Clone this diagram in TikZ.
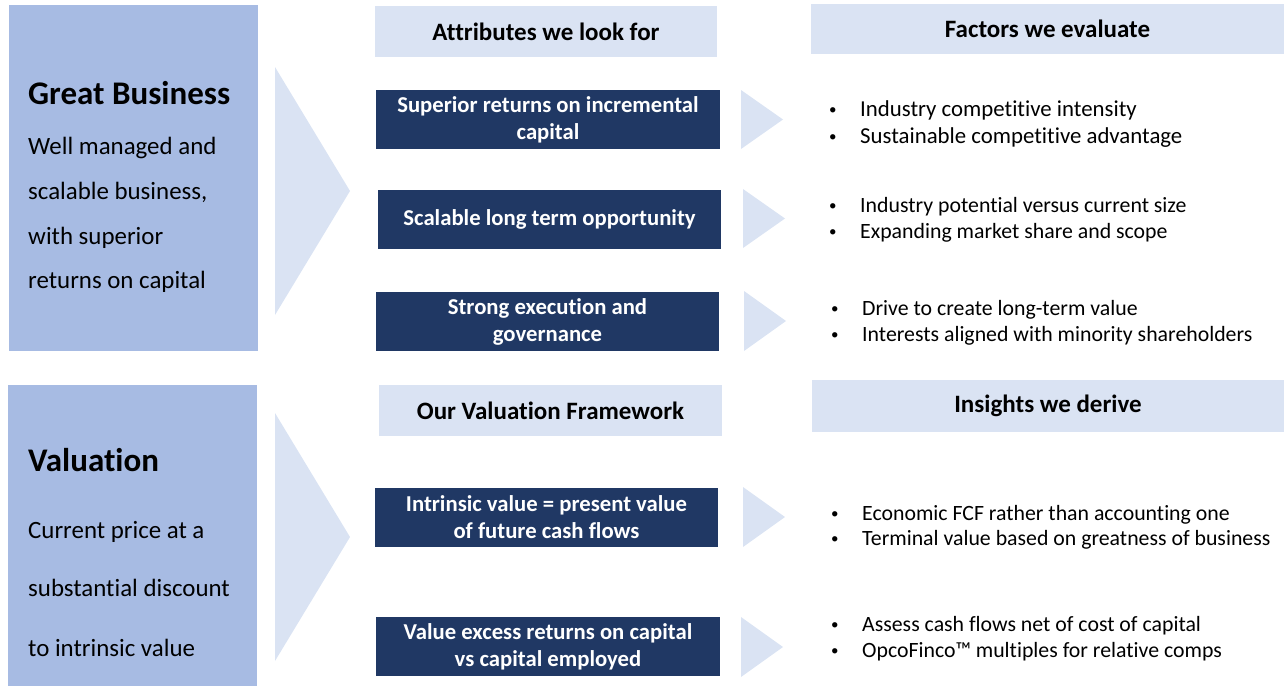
\documentclass[tikz,border=0pt]{standalone}
\usepackage{fontspec}
\setmainfont{Carlito}[Ligatures=NoCommon]
\definecolor{leftblue}{HTML}{A7BBE3}
\definecolor{paleblue}{HTML}{DAE3F3}
\definecolor{navy}{HTML}{203864}
\newcommand{\bl}{\makebox[31pt][l]{\raisebox{0.08em}{\fontsize{15}{15}\selectfont\textbullet}}}
\begin{document}
\begin{tikzpicture}[x=1pt,y=-1pt,
  headbox/.style={fill=paleblue, inner sep=0pt, font=\bfseries\fontsize{25}{28}\selectfont},
  darkbox/.style={fill=navy, text=white, inner sep=0pt, align=center, font=\bfseries\fontsize{22.7}{27}\selectfont},
  chev/.style={fill=paleblue},
  bul/.style={anchor=west, inner sep=0pt, text height=0.7em, text depth=0.2em, font=\fontsize{21.8}{26}\selectfont},
  bulA/.style={bul, font=\fontsize{22.8}{27}\selectfont},
  bigtitle/.style={anchor=west, inner sep=0pt, text height=0.7em, text depth=0.2em, font=\bfseries\fontsize{33}{36}\selectfont},
  sidetext/.style={anchor=west, inner sep=0pt, text height=0.7em, text depth=0.2em, font=\fontsize{24.9}{28}\selectfont}
]
\useasboundingbox (0,0) rectangle (1284,686);
% left boxes
\fill[leftblue] (9,5) rectangle (258,351);
\fill[leftblue] (8,385) rectangle (257,686);
% big chevrons
\fill[chev] (275,67) -- (350,191) -- (275,315) -- cycle;
\fill[chev] (275,413) -- (350,537) -- (275,661) -- cycle;
% left texts
\node[bigtitle] (gb) at (28,102) {Great Business};
\node[sidetext] (gb1) at (28,152) {Well managed and};
\node[sidetext] (gb2) at (28,197) {scalable business,};
\node[sidetext] (gb3) at (28,242) {with superior};
\node[sidetext] (gb4) at (28,286) {returns on capital};
\node[bigtitle] (va) at (28,469) {Valuation};
\node[sidetext] (va1) at (28,536) {Current price at a};
\node[sidetext] (va2) at (28,594) {substantial discount};
\node[sidetext] (va3) at (28,654) {to intrinsic value};
% headers
\node[headbox, minimum width=342pt, minimum height=51pt] (h1) at (546,31.5) {Attributes we look for};
\node[headbox, minimum width=473pt, minimum height=50pt] (h2) at (1047.5,29) {Factors we evaluate};
\node[headbox, minimum width=343pt, minimum height=51pt] (h3) at (550.5,410.5) {Our Valuation Framework};
\node[headbox, minimum width=472pt, minimum height=52pt] (h4) at (1048,406) {Insights we derive};
% dark boxes
\node[darkbox, minimum width=344pt, minimum height=59pt] (b1) at (548,119.5) {Superior returns on incremental\\capital};
\node[darkbox, minimum width=343pt, minimum height=59pt] (b2) at (549.5,219.5) {Scalable long term opportunity};
\node[darkbox, minimum width=343pt, minimum height=59pt] (b3) at (547.5,321.5) {Strong execution and\\governance};
\node[darkbox, minimum width=343pt, minimum height=59pt] (b4) at (546.5,517.5) {Intrinsic value = present value\\of future cash flows};
\node[darkbox, minimum width=344pt, minimum height=59pt] (b5) at (548,646.5) {Value excess returns on capital\\vs capital employed};
% small chevrons
\fill[chev] (741,90) -- (783,119.5) -- (741,149) -- cycle;
\fill[chev] (743,189) -- (785,218.5) -- (743,248) -- cycle;
\fill[chev] (744,291) -- (786,321) -- (744,351) -- cycle;
\fill[chev] (743,487) -- (785,517) -- (743,547) -- cycle;
\fill[chev] (741,617) -- (783,647) -- (741,677) -- cycle;
% bullets
\node[bulA] (f1) at (829,114) {\bl Industry competitive intensity};
\node[bulA] (f2) at (829,141) {\bl Sustainable competitive advantage};
\node[bul] (f3) at (829,210) {\bl Industry potential versus current size};
\node[bul] (f4) at (829,236) {\bl Expanding market share and scope};
\node[bul] (f5) at (831,313) {\bl Drive to create long-term value};
\node[bul] (f6) at (831,339) {\bl Interests aligned with minority shareholders};
\node[bul] (i1) at (831,518) {\bl Economic FCF rather than accounting one};
\node[bul] (i2) at (831,543) {\bl Terminal value based on greatness of business};
\node[bul] (i3) at (831,629) {\bl Assess cash flows net of cost of capital};
\node[bul] (i4) at (831,655) {\bl OpcoFinco™ multiples for relative comps};
\end{tikzpicture}
\end{document}
